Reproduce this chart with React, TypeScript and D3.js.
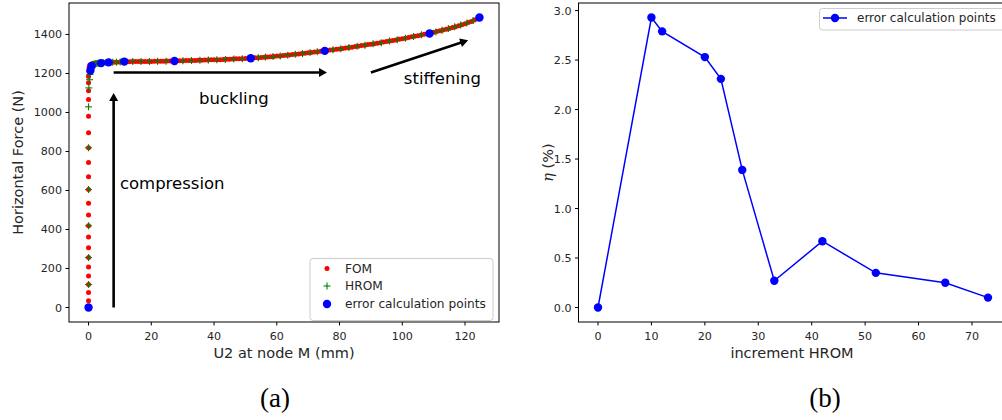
import React from 'react';
import * as d3 from 'd3';

// ---------- data (panel a) ----------
const fomU2 = [
  0, 0, 0, 0, 0, 0, 0, 0, 0, 0, 0, 0, 0, 0, 0, 0, 0, 0, 0, 0, 0, 0, 0.1, 0.2,
  0.4, 0.9, 1.5, 2, 3, 4, 5, 6, 7, 8, 9, 10, 11, 12, 13, 14, 15, 16, 17, 18, 19, 20,
  21, 22, 23, 24, 25, 26, 27, 28, 29, 30, 31, 32, 33, 34, 35, 36, 37, 38, 39, 40,
  41, 42, 43, 44, 45, 46, 47, 48, 49, 50, 51, 52, 53, 54, 55, 56, 57, 58, 59, 60,
  61, 62, 63, 64, 65, 66, 67, 68, 69, 70, 71, 72, 73, 74, 75, 76, 77, 78, 79, 80,
  81, 82, 83, 84, 85, 86, 87, 88, 89, 90, 91, 92, 93, 94, 95, 96, 97, 98, 99, 100,
  101, 102, 103, 104, 105, 106, 107, 108, 109, 110, 111, 112, 113, 114, 115, 116, 117, 118, 119, 120,
  121, 122, 123, 124, 124.6,
];
const fomForce = [
  0, 34, 77, 118, 162, 208, 256, 306, 362, 419, 474, 535, 605, 670, 744, 819, 896, 981, 1067, 1111, 1152, 1185, 1212, 1232,
  1243, 1249, 1252, 1253, 1254, 1255, 1256, 1257, 1257, 1258, 1258, 1259, 1260, 1260, 1260, 1261, 1261, 1261, 1262, 1262, 1262, 1262,
  1263, 1263, 1263, 1263, 1264, 1264, 1264, 1265, 1265, 1265, 1266, 1266, 1267, 1267, 1268, 1268, 1269, 1269, 1270, 1270,
  1271, 1271, 1272, 1273, 1273, 1274, 1275, 1276, 1276, 1277, 1278, 1279, 1280, 1281, 1282, 1283, 1285, 1286, 1287, 1289,
  1290, 1292, 1293, 1295, 1297, 1298, 1300, 1302, 1304, 1306, 1308, 1310, 1312, 1314, 1316, 1318, 1320, 1322, 1324, 1326,
  1328, 1331, 1333, 1335, 1338, 1340, 1343, 1345, 1348, 1350, 1353, 1355, 1358, 1361, 1364, 1366, 1369, 1372, 1375, 1378,
  1381, 1384, 1388, 1391, 1394, 1397, 1401, 1404, 1408, 1411, 1415, 1419, 1423, 1427, 1431, 1436, 1440, 1445, 1450, 1455,
  1461, 1467, 1474, 1481, 1487,
];
const hromU2 = [
  0, 0, 0, 0, 0, 0, 0, 0.1, 0.3, 0.4,
  0.6, 0.8, 1.0, 1.4, 1.8, 2.2, 2.6, 3.0, 3.3, 3.6,
  4.0, 4.8, 5.6, 6.4, 7.7, 8.9, 10.1, 11.4, 14.1, 16.7,
  19.4, 22.0, 24.7, 27.4, 30.1, 32.8, 35.5, 38.2, 40.9, 43.6,
  46.3, 49.0, 51.7, 54.1, 56.4, 58.8, 61.1, 63.5, 65.9, 68.2,
  70.6, 72.9, 75.3, 77.9, 80.4, 83.0, 85.6, 88.1, 90.7, 93.3,
  95.9, 98.4, 101.0, 103.6, 106.1, 108.7, 110.7, 112.7, 114.7, 116.7,
  118.6, 120.6, 122.6, 124.6,
];
const hromForce = [
  0, 118, 256, 419, 605, 819, 1029, 1126, 1168, 1195,
  1215, 1228, 1238, 1245, 1248, 1250, 1251, 1252, 1252, 1253,
  1253, 1255, 1256, 1257, 1258, 1258, 1259, 1261, 1261, 1261,
  1262, 1263, 1263, 1264, 1265, 1266, 1268, 1269, 1271, 1272,
  1274, 1276, 1278, 1281, 1284, 1287, 1290, 1294, 1298, 1302,
  1307, 1312, 1316, 1322, 1327, 1333, 1339, 1345, 1352, 1358,
  1366, 1373, 1381, 1390, 1398, 1405, 1413, 1421, 1430, 1439,
  1448, 1459, 1471, 1487,
];
// ---------- data (panel b) ----------
const incHROM = [0, 10, 12, 20, 23, 27, 33, 42, 52, 65, 73];
const etaPct = [0, 2.93, 2.79, 2.53, 2.31, 1.39, 0.27, 0.67, 0.35, 0.25, 0.10];

const leftXTicks = [0, 20, 40, 60, 80, 100, 120];
const leftYTicks = [0, 200, 400, 600, 800, 1000, 1200, 1400];
const rightXTicks = [0, 10, 20, 30, 40, 50, 60, 70];
const rightYTicks = [0, 0.5, 1.0, 1.5, 2.0, 2.5, 3.0];
const leftLegend = ['FOM', 'HROM', 'error calculation points'];
const rightLegend = ['error calculation points'];
const annotTexts = ['compression', 'buckling', 'stiffening'];

const FONT = 'DejaVu Sans, sans-serif';
const TXT = '#262626';

function arrowPath(x1: number, y1: number, x2: number, y2: number, w = 2.6, hw = 9, hl = 8) {
  const dx = x2 - x1, dy = y2 - y1;
  const L = Math.hypot(dx, dy);
  const ux = dx / L, uy = dy / L;
  const px = -uy, py = ux;
  const bx = x2 - ux * hl, by = y2 - uy * hl;
  const p = [
    [x1 + px * w / 2, y1 + py * w / 2],
    [bx + px * w / 2, by + py * w / 2],
    [bx + px * hw / 2, by + py * hw / 2],
    [x2, y2],
    [bx - px * hw / 2, by - py * hw / 2],
    [bx - px * w / 2, by - py * w / 2],
    [x1 - px * w / 2, y1 - py * w / 2],
  ];
  return 'M' + p.map((q) => q[0].toFixed(2) + ',' + q[1].toFixed(2)).join('L') + 'Z';
}

function Plus({ x, y, s = 3.5, c = '#008000' }: { x: number; y: number; s?: number; c?: string }) {
  return (
    <g stroke={c} strokeWidth={1.1}>
      <line x1={x - s} x2={x + s} y1={y} y2={y} />
      <line x1={x} x2={x} y1={y - s} y2={y + s} />
    </g>
  );
}

export default function App() {
  // panel a scales
  const xa = d3.scaleLinear().domain([-6.23, 130.83]).range([69, 499]);
  const ya = d3.scaleLinear().domain([-74.35, 1561.35]).range([322, 3]);
  // panel b scales
  const xb = d3.scaleLinear().domain([-3.65, 76.65]).range([578.5, 1007.5]);
  const yb = d3.scaleLinear().domain([-0.1465, 3.0765]).range([322, 3]);

  const errIdx = incHROM;
  const line = d3
    .line<number>()
    .x((_, i) => xb(incHROM[i]))
    .y((d) => yb(d));

  const leftAx = { x0: 69, x1: 499, y0: 3, y1: 322 };
  const rightAx = { x0: 578.5, x1: 1007.5, y0: 3, y1: 322 };

  return (
    <svg width={1002} height={420} style={{ position: 'absolute', left: 0, top: 0, background: '#fff' }} fontFamily={FONT}>
      <rect x={0} y={0} width={1002} height={420} fill="#fff" />
      {/* ================= PANEL A ================= */}
      <defs>
        <clipPath id="clipA">
          <rect x={leftAx.x0} y={leftAx.y0} width={leftAx.x1 - leftAx.x0} height={leftAx.y1 - leftAx.y0} />
        </clipPath>
        <clipPath id="clipB">
          <rect x={rightAx.x0} y={rightAx.y0} width={rightAx.x1 - rightAx.x0} height={rightAx.y1 - rightAx.y0} />
        </clipPath>
      </defs>
      <g clipPath="url(#clipA)">
        {fomU2.map((u, i) => (
          <circle key={'f' + i} cx={xa(u)} cy={ya(fomForce[i])} r={2.5} fill="#ff0000" />
        ))}
        {hromU2.map((u, i) => (
          <Plus key={'h' + i} x={xa(u)} y={ya(hromForce[i])} />
        ))}
        {errIdx.map((k, i) => (
          <circle key={'e' + i} cx={xa(hromU2[k])} cy={ya(hromForce[k])} r={4.2} fill="#0000ff" />
        ))}
      </g>
      {/* annotations */}
      <path d={arrowPath(xa(8), ya(0), xa(8), ya(1100))} fill="#000" />
      <path d={arrowPath(xa(8), ya(1205), xa(76), ya(1205))} fill="#000" />
      <path d={arrowPath(xa(90), ya(1205), xa(121), ya(1370))} fill="#000" />
      <text x={xa(10)} y={ya(608)} fontSize={16.5} fill="#000">{annotTexts[0]}</text>
      <text x={xa(35.2)} y={ya(1046)} fontSize={16.5} fill="#000">{annotTexts[1]}</text>
      <text x={xa(100.5)} y={ya(1144)} fontSize={16.5} fill="#000">{annotTexts[2]}</text>

      {/* axes frame */}
      <rect x={leftAx.x0} y={leftAx.y0} width={leftAx.x1 - leftAx.x0} height={leftAx.y1 - leftAx.y0} fill="none" stroke="#000" strokeWidth={1} />
      {leftXTicks.map((t) => (
        <g key={'lx' + t}>
          <line x1={xa(t)} x2={xa(t)} y1={322} y2={325.5} stroke="#000" />
          <text x={xa(t)} y={340} fontSize={11.1} textAnchor="middle" fill={TXT}>{t}</text>
        </g>
      ))}
      {leftYTicks.map((t) => (
        <g key={'ly' + t}>
          <line x1={65.5} x2={69} y1={ya(t)} y2={ya(t)} stroke="#000" />
          <text x={62} y={ya(t) + 4} fontSize={11.1} textAnchor="end" fill={TXT}>{t}</text>
        </g>
      ))}
      <text x={284} y={358} fontSize={14.5} textAnchor="middle" fill={TXT}>U2 at node M (mm)</text>
      <text transform={`translate(23,162.5) rotate(-90)`} fontSize={14.5} textAnchor="middle" fill={TXT}>Horizontal Force (N)</text>

      {/* legend A */}
      <rect x={310} y={258.5} width={183} height={62} rx={3} fill="#fff" fillOpacity={0.8} stroke="#cccccc" />
      <circle cx={327} cy={268.5} r={2.5} fill="#ff0000" />
      <Plus x={327} y={286} />
      <circle cx={327} cy={304} r={4.2} fill="#0000ff" />
      {leftLegend.map((s, i) => (
        <text key={'lg' + i} x={345} y={[272.5, 290, 308][i]} fontSize={12.2} fill={TXT}>{s}</text>
      ))}

      {/* ================= PANEL B ================= */}
      <g clipPath="url(#clipB)">
        <path d={line(etaPct) || ''} fill="none" stroke="#0000ff" strokeWidth={1.5} />
        {etaPct.map((v, i) => (
          <circle key={'b' + i} cx={xb(incHROM[i])} cy={yb(v)} r={4.2} fill="#0000ff" />
        ))}
      </g>
      <rect x={rightAx.x0} y={rightAx.y0} width={rightAx.x1 - rightAx.x0} height={rightAx.y1 - rightAx.y0} fill="none" stroke="#000" strokeWidth={1} />
      {rightXTicks.map((t) => (
        <g key={'rx' + t}>
          <line x1={xb(t)} x2={xb(t)} y1={322} y2={325.5} stroke="#000" />
          <text x={xb(t)} y={340} fontSize={11.1} textAnchor="middle" fill={TXT}>{t}</text>
        </g>
      ))}
      {rightYTicks.map((t) => (
        <g key={'ry' + t}>
          <line x1={575} x2={578.5} y1={yb(t)} y2={yb(t)} stroke="#000" />
          <text x={571.5} y={yb(t) + 4} fontSize={11.1} textAnchor="end" fill={TXT}>{t.toFixed(1)}</text>
        </g>
      ))}
      <text x={792} y={358} fontSize={14.5} textAnchor="middle" fill={TXT}>increment HROM</text>
      <text transform={`translate(553,162.5) rotate(-90)`} fontSize={14.5} textAnchor="middle" fill={TXT}>
        <tspan fontStyle="italic" fontFamily="DejaVu Serif, serif">η</tspan>
        <tspan> (%)</tspan>
      </text>

      {/* legend B */}
      <rect x={819.5} y={8.5} width={190} height={21.5} rx={3} fill="#fff" fillOpacity={0.8} stroke="#cccccc" />
      <line x1={823} x2={847} y1={18} y2={18} stroke="#0000ff" strokeWidth={1.5} />
      <circle cx={835} cy={18} r={4.2} fill="#0000ff" />
      <text x={857} y={22.2} fontSize={12} fill={TXT}>{rightLegend[0]}</text>

      {/* sub captions */}
      <text x={275} y={407} fontSize={27} textAnchor="middle" fontFamily="Liberation Serif, DejaVu Serif, serif" fill="#000">(a)</text>
      <text x={825} y={407} fontSize={27} textAnchor="middle" fontFamily="Liberation Serif, DejaVu Serif, serif" fill="#000">(b)</text>
    </svg>
  );
}
